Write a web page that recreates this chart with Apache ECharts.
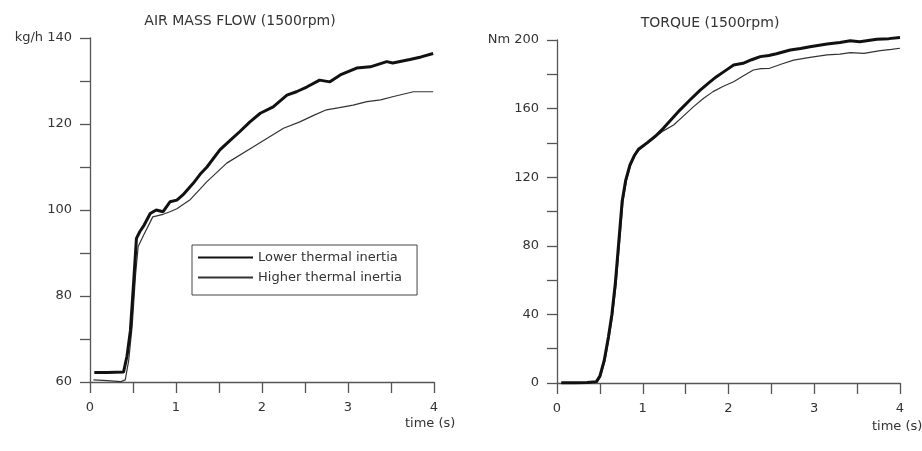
<!DOCTYPE html>
<html>
<head>
<meta charset="utf-8">
<script src="https://cdn.jsdelivr.net/npm/echarts@6/dist/echarts.min.js"></script>
<style>
html,body{margin:0;padding:0;background:#fff;}
#main{width:922px;height:451px;}
</style>
</head>
<body>
<div id="main"></div>
<script>
// air mass flow, kg/h
var flowTimeLower = [0.05, 0.2, 0.39, 0.43, 0.47, 0.51, 0.54, 0.58, 0.63, 0.7, 0.77, 0.85, 0.93, 1.01, 1.08, 1.2, 1.28, 1.36, 1.51, 1.62, 1.74, 1.86, 1.98, 2.13, 2.29, 2.4, 2.52, 2.67, 2.79, 2.91, 3.1, 3.26, 3.45, 3.52, 3.72, 3.85, 3.99];
var flowLower = [62.2, 62.2, 62.3, 66, 72, 84, 93.4, 95, 96.5, 99.2, 100, 99.6, 101.9, 102.3, 103.5, 106.2, 108.3, 110, 114, 116, 118.2, 120.5, 122.5, 124, 126.7, 127.5, 128.6, 130.2, 129.8, 131.4, 133, 133.3, 134.5, 134.2, 135, 135.6, 136.4];
var flowTimeHigher = [0.04, 0.2, 0.36, 0.41, 0.45, 0.49, 0.53, 0.56, 0.62, 0.73, 0.85, 0.93, 1.01, 1.16, 1.36, 1.59, 1.9, 2.25, 2.44, 2.6, 2.75, 2.9, 3.06, 3.22, 3.38, 3.53, 3.76, 3.99];
var flowHigher = [60.5, 60.3, 60.1, 60.5, 65, 73, 85, 91.5, 94, 98.4, 99, 99.6, 100.3, 102.3, 106.6, 110.9, 114.7, 119, 120.5, 122, 123.3, 123.8, 124.4, 125.2, 125.6, 126.4, 127.5, 127.5];

// torque, Nm
var torqueTimeLower = [0.05, 0.2, 0.35, 0.46, 0.5, 0.55, 0.6, 0.64, 0.68, 0.72, 0.76, 0.8, 0.85, 0.9, 0.95, 1.05, 1.15, 1.24, 1.33, 1.43, 1.55, 1.67, 1.77, 1.86, 1.96, 2.06, 2.17, 2.27, 2.37, 2.47, 2.56, 2.72, 2.84, 2.95, 3.15, 3.3, 3.42, 3.53, 3.73, 3.87, 4.0];
var torqueLower = [0.2, 0.2, 0.3, 0.8, 4, 13, 27, 40, 58, 82, 106, 118, 127, 132.5, 136.3, 140, 144, 148.5, 153.5, 159, 165, 170.8, 175, 178.6, 182, 185.4, 186.4, 188.5, 190.3, 191, 192, 194.2, 195, 196.1, 197.7, 198.6, 199.6, 199, 200.4, 200.8, 201.5];
var torqueTimeHigher = [0.05, 0.2, 0.35, 0.47, 0.51, 0.56, 0.61, 0.65, 0.69, 0.73, 0.77, 0.81, 0.86, 0.91, 0.96, 1.05, 1.15, 1.24, 1.36, 1.47, 1.59, 1.71, 1.82, 1.94, 2.06, 2.17, 2.29, 2.38, 2.48, 2.62, 2.76, 2.95, 3.15, 3.3, 3.42, 3.58, 3.77, 3.9, 4.0];
var torqueHigher = [0, 0, 0.1, 0.6, 4, 13, 27, 40, 58, 82, 106, 118, 127, 132.5, 136, 139.5, 143.5, 147, 150.4, 155.5, 161, 166, 169.9, 173, 175.7, 179, 182.5, 183.3, 183.5, 186, 188.3, 189.9, 191.3, 191.8, 192.6, 192.2, 193.8, 194.5, 195.2];

var seriesNames = ['Lower thermal inertia', 'Higher thermal inertia'];
var titles = ['AIR MASS FLOW (1500rpm)', 'TORQUE (1500rpm)'];
var xLabels = [0, 1, 2, 3, 4];

function pairs(t, v) {
    var out = [];
    for (var i = 0; i < t.length; i++) out.push([t[i], v[i]]);
    return out;
}

var FONT = 'DejaVu Sans';
var TXT = '#333';
var AX = '#555';

function xAxisOf(idx) {
    return {
        type: 'value', gridIndex: idx, min: 0, max: 4, interval: 0.5,
        axisLine: {show: true, lineStyle: {color: AX, width: 1.3}},
        axisTick: {show: true, inside: false, length: 11, lineStyle: {color: AX, width: 1.3}},
        axisLabel: {
            margin: 19, fontFamily: FONT, fontSize: 13, color: TXT,
            formatter: function (v) { return xLabels.indexOf(v) >= 0 ? String(v) : ''; }
        },
        splitLine: {show: false}
    };
}
function yAxisOf(idx, min, max, step, labelStep, unit) {
    return {
        type: 'value', gridIndex: idx, min: min, max: max, interval: step,
        axisLine: {show: true, lineStyle: {color: AX, width: 1.3}},
        axisTick: {show: true, inside: false, length: 10, lineStyle: {color: AX, width: 1.3}},
        axisLabel: {
            margin: 18, fontFamily: FONT, fontSize: 13, color: TXT,
            formatter: function (v) {
                if ((v - min) % labelStep !== 0) return '';
                return v === max ? unit + ' ' + v : String(v);
            }
        },
        splitLine: {show: false}
    };
}

var chart = echarts.init(document.getElementById('main'));
var option = {
    backgroundColor: '#fff',
    animation: false,
    title: [
        {text: titles[0], left: 235, top: 9, textAlign: 'center',
            textStyle: {fontFamily: FONT, fontSize: 14, fontWeight: 'normal', color: TXT}},
        {text: titles[1], left: 705, top: 11, textAlign: 'center',
            textStyle: {fontFamily: FONT, fontSize: 14, fontWeight: 'normal', color: TXT}}
    ],
    grid: [
        {left: 90, top: 38, width: 344, height: 344},
        {left: 557, top: 40, width: 343, height: 343}
    ],
    legend: {
        data: seriesNames,
        orient: 'vertical',
        left: 192, top: 245,
        itemWidth: 55, itemHeight: 14, itemGap: 7,
        padding: [6, 15, 11, 5],
        borderColor: '#444', borderWidth: 1,
        itemStyle: {opacity: 0},
        textStyle: {fontFamily: FONT, fontSize: 13, color: TXT}
    },
    xAxis: [xAxisOf(0), xAxisOf(1)],
    yAxis: [
        yAxisOf(0, 60, 140, 10, 20, 'kg/h'),
        yAxisOf(1, 0, 200, 20, 40, 'Nm')
    ],
    graphic: [
        {type: 'text', left: 405, top: 417, style: {text: 'time (s)', font: '13px "DejaVu Sans"', fill: TXT}},
        {type: 'text', left: 872, top: 420, style: {text: 'time (s)', font: '13px "DejaVu Sans"', fill: TXT}}
    ],
    series: [
        {name: seriesNames[0], type: 'line', xAxisIndex: 0, yAxisIndex: 0, symbol: 'none', clip: false,
            data: pairs(flowTimeLower, flowLower), lineStyle: {color: '#111', width: 3}, itemStyle: {color: '#111'}, z: 3},
        {name: seriesNames[1], type: 'line', xAxisIndex: 0, yAxisIndex: 0, symbol: 'none', clip: false,
            data: pairs(flowTimeHigher, flowHigher), lineStyle: {color: '#333', width: 1.2}, itemStyle: {color: '#333'}, z: 2},
        {name: seriesNames[0], type: 'line', xAxisIndex: 1, yAxisIndex: 1, symbol: 'none', clip: false,
            data: pairs(torqueTimeLower, torqueLower), lineStyle: {color: '#111', width: 3}, itemStyle: {color: '#111'}, z: 3},
        {name: seriesNames[1], type: 'line', xAxisIndex: 1, yAxisIndex: 1, symbol: 'none', clip: false,
            data: pairs(torqueTimeHigher, torqueHigher), lineStyle: {color: '#333', width: 1.2}, itemStyle: {color: '#333'}, z: 2}
    ]
};
chart.setOption(option);
</script>
</body>
</html>
